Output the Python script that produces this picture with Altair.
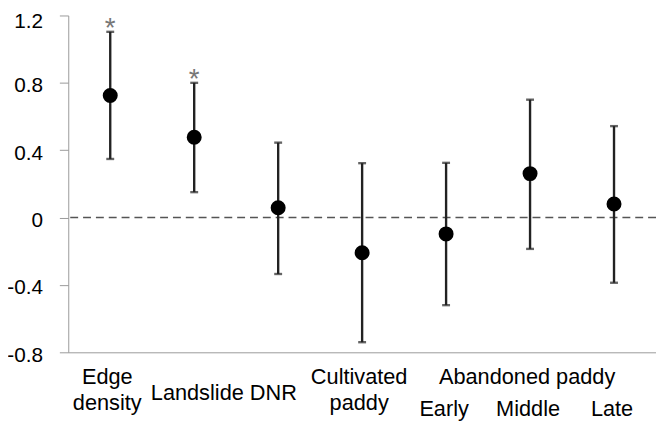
import altair as alt
import pandas as pd

# ---- data ----
categories = ["Edge density", "Landslide", "DNR", "Cultivated paddy", "Early", "Middle", "Late"]
estimates = [0.725, 0.477, 0.058, -0.209, -0.097, 0.261, 0.081]
lower = [0.348, 0.151, -0.335, -0.740, -0.520, -0.186, -0.387]
upper = [1.103, 0.800, 0.445, 0.323, 0.325, 0.700, 0.543]
significance = ["*", "*", "", "", "", "", ""]

y_ticks = [-0.8, -0.4, 0, 0.4, 0.8, 1.2]

label_anchor = ["Edge density", "Edge density", "Landslide", "Cultivated paddy", "Cultivated paddy",
                "Middle", "Early", "Middle", "Late"]
label_text = ["Edge", "density", "Landslide DNR", "Cultivated", "paddy",
              "Abandoned paddy", "Early", "Middle", "Late"]
label_row = ["upper", "lower", "mid", "upper", "lower", "upper", "bottom", "bottom", "bottom"]

df = pd.DataFrame({"cat": categories, "est": estimates, "lo": lower, "hi": upper, "sig": significance})
labels = pd.DataFrame({"cat": label_anchor, "text": label_text, "row": label_row})
zero = pd.DataFrame({"z": [0]})

FONT = "Liberation Sans"

x_enc = alt.X("cat:N", scale=alt.Scale(type="point", domain=categories, padding=0.5),
              axis=alt.Axis(title=None, labels=False, ticks=False, grid=False,
                            domainColor="#999999", domainWidth=1))

def y_enc(field):
    return alt.Y(field, title=None,
                 scale=alt.Scale(domain=[-0.8, 1.2], nice=False, zero=False),
                 axis=alt.Axis(values=y_ticks, grid=False, tickSize=9, tickColor="#999999",
                               domainColor="#999999", labelPadding=17, labelFontSize=21,
                               labelFont=FONT, labelColor="#000000",
                               labelOffset={"condition": {"test": "datum.value >= 1.2", "value": 6}, "value": 3},
                               labelExpr="datum.value == 0 ? '0' : replace(format(datum.value, '.1f'), '\u2212', '-')"))

base = alt.Chart(df)

zero_line = alt.Chart(zero).mark_rule(strokeDash=[8, 5], color="#555555", strokeWidth=1.5).encode(
    y=y_enc("z:Q"))

bars = base.mark_rule(color="#222222", strokeWidth=2.4).encode(x=x_enc, y=y_enc("lo:Q"), y2="hi:Q")
cap_lo = base.mark_tick(orient="horizontal", size=8, thickness=2.4, color="#222222").encode(
    x=x_enc, y=y_enc("lo:Q"))
cap_hi = base.mark_tick(orient="horizontal", size=8, thickness=2.4, color="#222222").encode(
    x=x_enc, y=y_enc("hi:Q"))
points = base.mark_circle(size=230, color="#000000", opacity=1).encode(x=x_enc, y=y_enc("est:Q"))
stars = base.mark_text(fontSize=28, font=FONT, color="#777777", baseline="alphabetic", dy=5).encode(
    x=x_enc, y=y_enc("hi:Q"), text="sig:N")

lab_base = alt.Chart(labels)

def label_layer(row, ypix, dx=0):
    return lab_base.transform_filter(alt.datum.row == row).mark_text(
        fontSize=22, font=FONT, color="#000000", baseline="alphabetic", align="center", dx=dx
    ).encode(x=x_enc, y=alt.value(ypix), text="text:N")

lab_upper = label_layer("upper", 373, dx=-3)
lab_lower = label_layer("lower", 399, dx=-3)
lab_mid = label_layer("mid", 389, dx=30)
lab_bottom = label_layer("bottom", 405, dx=-2)

chart = alt.layer(zero_line, bars, cap_lo, cap_hi, points, stars,
                  lab_upper, lab_lower, lab_mid, lab_bottom).properties(
    width=595, height=341,
    autosize=alt.AutoSizeParams(type="none"),
    padding={"left": 61, "top": 5, "right": 0, "bottom": 70},
    background="white",
).configure_view(stroke=None)

chart.save("out.html", embed_options={"renderer": "svg", "actions": False})
